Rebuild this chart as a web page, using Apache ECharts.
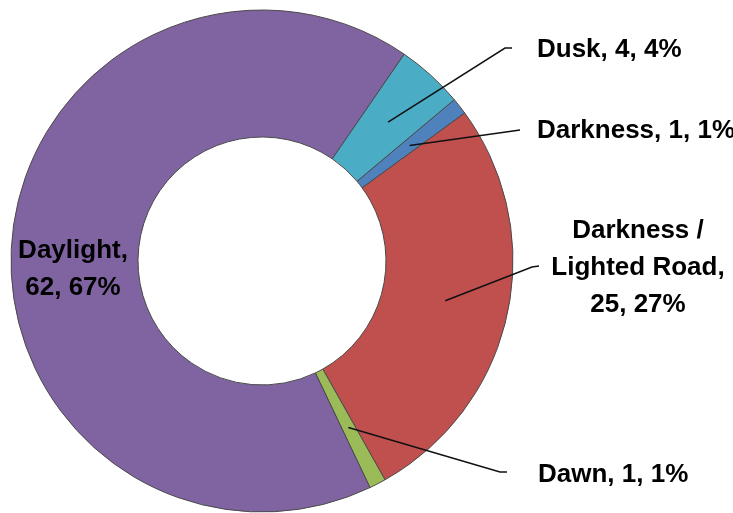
<!DOCTYPE html>
<html><head><meta charset="utf-8">
<script src="https://cdn.jsdelivr.net/npm/echarts@6/dist/echarts.min.js"></script>
<style>html,body{margin:0;padding:0;background:#fff}#c{width:733px;height:513px}</style>
</head><body><div id="c"></div>
<script>
// ---- data ----
const categories = ['Darkness', 'Darkness /\nLighted Road', 'Dawn', 'Daylight', 'Dusk'];
const values = [1, 25, 1, 62, 4];
const colors = ['#4F81BD', '#C0504D', '#9BBB59', '#8064A2', '#4BACC6'];
const nameLineBreak = [false, true, false, true, false];

// ---- label placement (annotation layout, not data) ----
const labelAnchors = [
  { x: 537, y: 131, align: 'left',   line: [[513, 131], [520, 130]] },
  { x: 638, y: 268, align: 'center', line: [[532, 267], [539, 266]] },
  { x: 538, y: 475, align: 'left',   line: [[500, 472], [507, 472]] },
  { x: 73,  y: 269, align: 'center', line: null },
  { x: 537, y: 50,  align: 'left',   line: [[505, 48], [512, 48]] }
];

const chart = echarts.init(document.getElementById('c'), null, { renderer: 'canvas' });

const seriesData = categories.map((n, i) => ({
  name: n,
  value: values[i],
  itemStyle: { color: colors[i] },
  labelLine: { show: !!labelAnchors[i].line }
}));

chart.setOption({
  backgroundColor: '#ffffff',
  animation: false,
  series: [{
    type: 'pie',
    center: [262, 261],
    radius: [124, 251],
    startAngle: 40,
    clockwise: true,
    avoidLabelOverlap: false,
    emphasis: { disabled: true },
    itemStyle: { borderColor: '#4a4a4a', borderWidth: 1 },
    label: {
      show: true,
      position: 'outside',
      color: '#000',
      fontFamily: 'Liberation Sans',
      fontWeight: 'bold',
      fontSize: 26,
      lineHeight: 37,
      formatter: function (p) {
        const sep = nameLineBreak[p.dataIndex] ? ',\n' : ', ';
        return p.name + sep + p.value + ', ' + Math.round(p.percent) + '%';
      }
    },
    labelLine: { show: true, showAbove: true, lineStyle: { color: '#111', width: 1.5 } },
    labelLayout: function (params) {
      const i = params.dataIndex;
      const a = labelAnchors[i];
      const res = { x: a.x, y: a.y, align: a.align, verticalAlign: 'middle' };
      if (a.line) {
        const lay = chart.getModel().getSeriesByIndex(0).getData().getItemLayout(i);
        const mid = (lay.startAngle + lay.endAngle) / 2;
        const rm = (lay.r + lay.r0) / 2;
        const p0 = [lay.cx + rm * Math.cos(mid), lay.cy + rm * Math.sin(mid)];
        res.labelLinePoints = [p0, a.line[0], a.line[1]];
      }
      return res;
    },
    data: seriesData
  }]
});

// make sure leader lines are painted on top of the slices
(function raiseGuideLines() {
  const data = chart.getModel().getSeriesByIndex(0).getData();
  data.each(function (i) {
    const el = data.getItemGraphicEl(i);
    const gl = el && el.getTextGuideLine && el.getTextGuideLine();
    if (gl) { gl.z2 = 1000; gl.markRedraw(); }
  });
  chart.getZr().refreshImmediately();
})();
</script>
</body></html>
